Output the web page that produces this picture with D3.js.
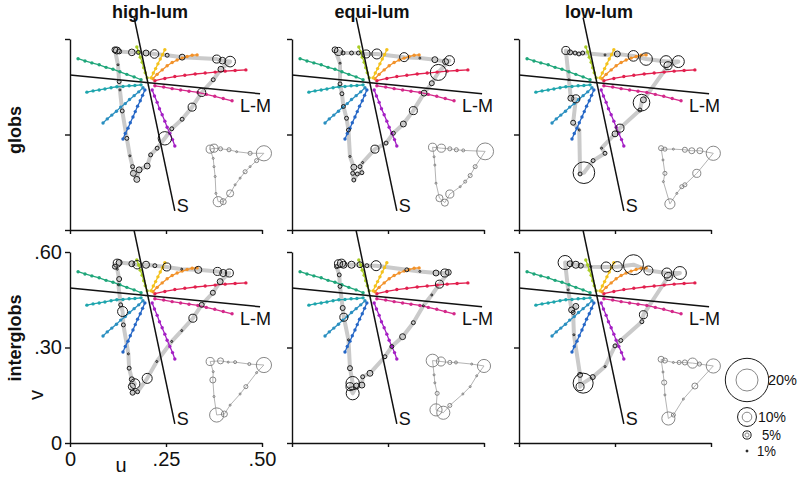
<!DOCTYPE html>
<html>
<head>
<meta charset="utf-8">
<script src="https://cdn.jsdelivr.net/npm/d3@7"></script>
<style>
  body { margin: 0; background: #fff; }
  text { font-family: "Liberation Sans", Arial, sans-serif; fill: #111; }
</style>
</head>
<body>
<script>
// panel names
const columns = ["high-lum", "equi-lum", "low-lum"];
const rows = ["globs", "interglobs"];

// axes ticks (u, v chromaticity)
const uTicks = [0, 0.25, 0.5];
const uTickLabels = ["0", ".25", ".50"];
const vTicks = [0, 0.3, 0.6];
const vTickLabels = ["0", ".30", ".60"];

// cone-opponent axes, white point
const whitePoint = [0.203, 0.460];
const lmAxis = [[0, 0.487], [0.495, 0.428]];
const sAxis = [[0.167, 0.667], [0.273, 0.06]];

// stimulus hue rays (u, v)
const rayColors = ["#1fa67a", "#1ea5ad", "#2a8fc0", "#2466c6", "#a41fc4",
                   "#d4288a", "#e21f4e", "#f2922a", "#f4c21c", "#a9cc24"];
const rays = [
  [[0.185,0.472],[0.167,0.481],[0.148,0.489],[0.130,0.497],[0.112,0.505],[0.094,0.511],[0.076,0.519],[0.057,0.525],[0.039,0.531],[0.021,0.538]],
  [[0.185,0.456],[0.169,0.454],[0.154,0.453],[0.138,0.451],[0.122,0.450],[0.107,0.447],[0.091,0.443],[0.076,0.440],[0.060,0.437],[0.044,0.433]],
  [[0.190,0.447],[0.179,0.434],[0.167,0.422],[0.155,0.410],[0.144,0.397],[0.132,0.386],[0.121,0.373],[0.109,0.361],[0.097,0.349],[0.086,0.336]],
  [[0.195,0.440],[0.189,0.423],[0.183,0.406],[0.176,0.389],[0.170,0.372],[0.164,0.355],[0.157,0.337],[0.151,0.320],[0.144,0.303],[0.138,0.286]],
  [[0.214,0.440],[0.220,0.421],[0.227,0.401],[0.233,0.381],[0.240,0.362],[0.247,0.342],[0.253,0.323],[0.260,0.303],[0.267,0.284],[0.273,0.264]],
  [[0.221,0.453],[0.244,0.449],[0.266,0.444],[0.288,0.440],[0.310,0.436],[0.333,0.432],[0.355,0.426],[0.377,0.420],[0.399,0.413],[0.422,0.406]],
  [[0.221,0.469],[0.247,0.476],[0.273,0.482],[0.299,0.486],[0.326,0.490],[0.352,0.493],[0.378,0.496],[0.404,0.499],[0.430,0.501],[0.458,0.503]],
  [[0.216,0.475],[0.227,0.489],[0.240,0.503],[0.253,0.516],[0.266,0.526],[0.279,0.534],[0.292,0.540],[0.305,0.545],[0.318,0.549],[0.331,0.550]],
  [[0.211,0.478],[0.217,0.493],[0.223,0.507],[0.229,0.522],[0.235,0.537],[0.241,0.551],[0.247,0.566]],
  [[0.201,0.478],[0.196,0.494],[0.192,0.510],[0.188,0.527],[0.183,0.543],[0.179,0.559],[0.174,0.575]]
];

// naming trajectories: [u, v, percent]
const globsHigh = [[0.117,0.566,3.8],[0.122,0.564,4.4],[0.128,0.561,3.3],[0.161,0.558,4.2],[0.178,0.558,2.7],[0.198,0.556,3.8],[0.220,0.553,5.2],[0.253,0.549,2.7],[0.292,0.543,3.8],[0.382,0.537,4.9],[0.397,0.532,4.2],[0.417,0.529,6.2],[0.393,0.505,3.8],[0.373,0.472,2.7],[0.343,0.432,4.9],[0.318,0.386,4.9],[0.292,0.348,2.7],[0.265,0.318,2.7],[0.247,0.288,7.5],[0.227,0.257,2.7],[0.210,0.236,2.7],[0.201,0.201,3.8],[0.180,0.189,3.8],[0.174,0.159,3.8],[0.165,0.178,3.8],[0.163,0.199,2.7],[0.156,0.233,1.5],[0.148,0.288,2.7],[0.136,0.374,2.7],[0.130,0.440,1.5],[0.128,0.466,2.7],[0.125,0.519,1.5]];
const globsEqui = [[0.112,0.566,3.8],[0.121,0.561,4.9],[0.133,0.556,2.7],[0.155,0.556,2.7],[0.173,0.556,2.7],[0.193,0.553,4.9],[0.221,0.553,5.9],[0.292,0.543,5.4],[0.333,0.540,1.5],[0.372,0.535,3.8],[0.400,0.529,3.8],[0.410,0.532,5.9],[0.381,0.495,8.7],[0.364,0.461,3.3],[0.344,0.430,3.8],[0.316,0.375,4.9],[0.290,0.333,3.8],[0.264,0.304,2.7],[0.245,0.273,2.7],[0.216,0.254,4.9],[0.184,0.212,1.5],[0.177,0.199,2.7],[0.182,0.180,2.7],[0.170,0.176,2.7],[0.161,0.157,2.7],[0.158,0.178,2.7],[0.161,0.197,3.8],[0.151,0.231,1.5],[0.147,0.314,2.7],[0.142,0.351,2.7],[0.134,0.388,2.7],[0.130,0.428,2.7],[0.125,0.459,2.7],[0.125,0.524,1.5]];
const globsLow = [[0.122,0.564,4.9],[0.133,0.558,3.3],[0.146,0.556,2.7],[0.156,0.553,2.7],[0.166,0.556,2.7],[0.224,0.550,1.5],[0.256,0.553,3.8],[0.298,0.547,6.2],[0.331,0.537,7.1],[0.383,0.529,6.8],[0.415,0.529,6.8],[0.388,0.516,4.9],[0.324,0.409,3.8],[0.319,0.400,9],[0.315,0.377,2.7],[0.263,0.320,4.9],[0.250,0.302,3.8],[0.215,0.257,1.5],[0.224,0.241,2.7],[0.193,0.218,2.7],[0.169,0.180,11.2],[0.159,0.176,2.7],[0.157,0.314,1.5],[0.141,0.337,3.3],[0.148,0.412,4.9],[0.135,0.414,3.8],[0.130,0.472,1.5]];
const interHigh = [[0.123,0.565,4.9],[0.128,0.567,3.8],[0.161,0.563,3.8],[0.175,0.560,5.1],[0.198,0.560,4.4],[0.221,0.557,2.7],[0.252,0.553,4.9],[0.291,0.546,1.5],[0.334,0.544,4.4],[0.384,0.539,4.9],[0.399,0.534,4.4],[0.415,0.534,4.9],[0.391,0.507,3.8],[0.372,0.472,3.3],[0.343,0.434,3.3],[0.320,0.392,4.9],[0.291,0.353,1.5],[0.265,0.319,1.5],[0.226,0.256,1.5],[0.201,0.203,5.9],[0.176,0.161,2.7],[0.163,0.158,3.3],[0.161,0.177,4.4],[0.169,0.186,5.9],[0.161,0.200,3.3],[0.154,0.235,2.7],[0.152,0.280,1.5],[0.139,0.371,2.7],[0.137,0.413,5.9],[0.132,0.434,2.7],[0.126,0.497,1.5],[0.128,0.515,3.3],[0.123,0.546,1.5],[0.117,0.554,3.3]];
const interEqui = [[0.121,0.563,4.9],[0.129,0.565,4.9],[0.134,0.560,4.4],[0.155,0.560,4.4],[0.177,0.560,3.8],[0.195,0.557,2.7],[0.219,0.557,5.9],[0.299,0.544,2.7],[0.333,0.539,1.5],[0.375,0.534,3.8],[0.398,0.534,4.9],[0.407,0.536,3.8],[0.384,0.499,4.9],[0.364,0.465,1.5],[0.342,0.431,1.5],[0.316,0.378,2.7],[0.288,0.334,3.8],[0.260,0.303,2.7],[0.242,0.271,2.7],[0.203,0.219,3.8],[0.184,0.208,2.7],[0.182,0.182,3.8],[0.168,0.179,3.8],[0.158,0.156,7.3],[0.151,0.177,4.9],[0.158,0.188,7.5],[0.151,0.235,3.3],[0.147,0.324,1.5],[0.135,0.395,4.9],[0.132,0.424,3.3],[0.125,0.492,2.7],[0.123,0.528,2.7],[0.116,0.554,2.7]];
const interLow = [[0.120,0.567,7.8],[0.133,0.563,3.8],[0.148,0.560,4.4],[0.161,0.557,3.3],[0.187,0.554,1.5],[0.227,0.553,5.9],[0.256,0.554,5.9],[0.298,0.560,10.5],[0.337,0.542,5.4],[0.385,0.534,5.9],[0.419,0.534,7.3],[0.389,0.523,4.9],[0.324,0.403,4.9],[0.320,0.381,2.7],[0.265,0.322,2.7],[0.250,0.305,2.7],[0.224,0.240,1.5],[0.192,0.207,3.3],[0.167,0.188,10.5],[0.159,0.177,4.9],[0.159,0.214,3.3],[0.143,0.340,1.5],[0.141,0.410,2.7],[0.148,0.429,3.8],[0.137,0.418,3.8],[0.128,0.481,1.5]];

// inset trajectories: [u, v, percent]
const insetGlobsHigh = [[0.365,0.254,8.7],[0.375,0.257,8.7],[0.392,0.255,4.9],[0.414,0.252,4.9],[0.434,0.246,2.7],[0.469,0.241,4.9],[0.505,0.241,14.7],[0.486,0.218,4.9],[0.469,0.199,2.7],[0.456,0.183,4.9],[0.443,0.163,2.7],[0.430,0.142,2.7],[0.417,0.115,7.8],[0.399,0.089,6.8],[0.386,0.089,10.5],[0.380,0.115,2.7],[0.378,0.168,2.7],[0.375,0.199,2.7],[0.373,0.225,2.7]];
const insetGlobsEqui = [[0.366,0.260,8.7],[0.389,0.257,8.7],[0.411,0.255,4.9],[0.428,0.252,4.9],[0.446,0.250,3.8],[0.503,0.247,16],[0.477,0.199,4.9],[0.464,0.171,4.9],[0.451,0.152,3.8],[0.438,0.136,2.7],[0.411,0.113,8.7],[0.398,0.086,7.8],[0.384,0.100,7.8],[0.375,0.147,2.7],[0.372,0.204,2.7],[0.370,0.230,2.7]];
const insetGlobsLow = [[0.370,0.257,5.9],[0.380,0.254,4.9],[0.402,0.254,2.7],[0.432,0.252,5.9],[0.450,0.249,6.8],[0.471,0.249,6.8],[0.506,0.241,13.9],[0.463,0.178,8.7],[0.432,0.142,4.9],[0.424,0.136,4.9],[0.411,0.115,2.7],[0.393,0.082,10.5],[0.376,0.152,2.7],[0.380,0.178,4.9],[0.375,0.220,2.7]];
const insetInterHigh = [[0.365,0.256,8.7],[0.392,0.258,6.8],[0.412,0.254,2.7],[0.430,0.254,3.8],[0.467,0.248,3.8],[0.505,0.245,14.7],[0.486,0.221,2.7],[0.458,0.177,4.9],[0.443,0.154,2.7],[0.417,0.119,2.7],[0.402,0.091,6.8],[0.382,0.088,13.9],[0.375,0.146,2.7],[0.372,0.198,6.8],[0.373,0.224,2.7]];
const insetInterEqui = [[0.366,0.259,12.7],[0.388,0.256,9.6],[0.411,0.253,4.9],[0.427,0.253,3.8],[0.468,0.248,2.7],[0.500,0.242,13],[0.481,0.211,2.7],[0.464,0.177,2.7],[0.445,0.154,2.7],[0.411,0.118,4.9],[0.394,0.095,13],[0.375,0.104,12.2],[0.378,0.156,4.9],[0.372,0.189,2.7],[0.370,0.214,2.7]];
const insetInterLow = [[0.370,0.263,6.8],[0.380,0.259,5.9],[0.402,0.253,2.7],[0.417,0.253,4.9],[0.432,0.253,5.9],[0.452,0.251,10.5],[0.470,0.248,4.9],[0.506,0.242,13.9],[0.458,0.179,6.8],[0.428,0.138,2.7],[0.402,0.088,4.9],[0.389,0.077,13],[0.380,0.151,2.7],[0.378,0.190,5.9],[0.375,0.223,2.7]];

// size legend
const legendPcts = [20, 10, 5, 1];
const legendLabels = ["20%", "10%", "5%", "1%"];

const mainLoops = [[globsHigh, globsEqui, globsLow], [interHigh, interEqui, interLow]];
const insetLoops = [[insetGlobsHigh, insetGlobsEqui, insetGlobsLow], [insetInterHigh, insetInterEqui, insetInterLow]];

// --- drawing ---
var width = 800, height = 478;
var colX = [70, 292, 519];   // u = 0 for each column
var rowY = [230, 443];       // v = 0 for each row
var panelW = 192, panelH = 191;

var svg = d3.select("body").append("svg").attr("width", width).attr("height", height);

var rMain = d3.scalePow().exponent(1.2).domain([0, 20]).range([0, 21.7]);
var rInset = d3.scalePow().exponent(1.2).domain([0, 20]).range([0, 11]);

function styleAxis(g) {
    g.attr("font-family", null).attr("font-size", null);
    g.selectAll("path, line").attr("stroke", "#111").attr("stroke-width", 1.4);
    g.selectAll("text").attr("font-size", 20).attr("fill", "#111");
}

rows.forEach(function(rowName, ri) {
    columns.forEach(function(colName, ci) {
        var x = d3.scaleLinear().domain([0, 0.5]).range([colX[ci], colX[ci] + panelW]);
        var y = d3.scaleLinear().domain([0, 0.6]).range([rowY[ri], rowY[ri] - panelH]);
        var line = d3.line().x(d => x(d[0])).y(d => y(d[1]));
        var loop = d3.line().x(d => x(d[0])).y(d => y(d[1])).curve(d3.curveLinearClosed);
        var labelled = (ri == 1 && ci == 0);
        var g = svg.append("g");

        // axes
        g.append("g").attr("transform", "translate(0," + rowY[ri] + ")")
            .call(d3.axisBottom(x).tickValues(uTicks).tickSize(4).tickSizeOuter(0).tickPadding(5)
                .tickFormat((d, i) => labelled ? uTickLabels[i] : ""))
            .call(styleAxis);
        g.append("g").attr("transform", "translate(" + colX[ci] + ",0)")
            .call(d3.axisLeft(y).tickValues(vTicks).tickSize(5).tickSizeOuter(0).tickPadding(3)
                .tickFormat((d, i) => labelled ? vTickLabels[i] : ""))
            .call(styleAxis);

        // thick grey trajectory
        var pts = mainLoops[ri][ci];
        g.append("path").attr("d", loop(pts)).attr("fill", "none")
            .attr("stroke", "#cacaca").attr("stroke-width", 4).attr("stroke-linejoin", "round");

        // hue rays
        rays.forEach(function(ray, k) {
            g.append("path").attr("d", line(ray)).attr("fill", "none")
                .attr("stroke", rayColors[k]).attr("stroke-width", 1.3);
            g.selectAll(null).data(ray).enter().append("circle")
                .attr("cx", d => x(d[0])).attr("cy", d => y(d[1])).attr("r", 1.7)
                .attr("fill", rayColors[k]);
        });

        // white point marker
        var wx = x(whitePoint[0]), wy = y(whitePoint[1]);
        g.append("path").attr("d", "M" + (wx - 3) + "," + wy + "h6M" + wx + "," + (wy - 3) + "v6")
            .attr("stroke", "#ddd").attr("stroke-width", 1);

        // L-M and S axes
        g.append("path").attr("d", line(lmAxis)).attr("stroke", "#111").attr("stroke-width", 1.5);
        g.append("path").attr("d", line(sAxis)).attr("stroke", "#111").attr("stroke-width", 1.5);
        g.append("text").attr("x", x(lmAxis[1][0]) - 20).attr("y", y(lmAxis[1][1]) + 18)
            .attr("font-size", 18).text("L-M");
        g.append("text").attr("x", x(sAxis[1][0]) + 2).attr("y", y(sAxis[1][1]) + 1)
            .attr("font-size", 18).text("S");

        // circles on trajectory
        g.selectAll(null).data(pts).enter().append("circle")
            .attr("cx", d => x(d[0])).attr("cy", d => y(d[1])).attr("r", d => rMain(d[2]))
            .attr("fill", "none").attr("stroke", "#1a1a1a").attr("stroke-width", 1);

        // inset trajectory
        var ins = insetLoops[ri][ci];
        g.append("path").attr("d", loop(ins)).attr("fill", "none")
            .attr("stroke", "#b4b4b4").attr("stroke-width", 1);
        g.selectAll(null).data(ins).enter().append("circle")
            .attr("cx", d => x(d[0])).attr("cy", d => y(d[1])).attr("r", d => rInset(d[2]))
            .attr("fill", "none").attr("stroke", "#7a7a7a").attr("stroke-width", 0.9);

        // column titles
        if (ri == 0) {
            svg.append("text").attr("x", colX[ci] + 80).attr("y", 18)
                .attr("text-anchor", "middle").attr("font-size", 18).attr("font-weight", "bold")
                .text(colName);
        }
    });

    // row titles
    var cy = ri == 0 ? 130 : 338;
    svg.append("text").attr("transform", "translate(21," + cy + ") rotate(-90)")
        .attr("text-anchor", "middle").attr("font-size", 18).attr("font-weight", "bold")
        .text(rowName);
});

// axis names
svg.append("text").attr("transform", "translate(43,395) rotate(-90)")
    .attr("text-anchor", "middle").attr("font-size", 20).text("v");
svg.append("text").attr("x", 121).attr("y", 472)
    .attr("text-anchor", "middle").attr("font-size", 20).text("u");

// legend
var legY = [380, 417, 435, 451];
var legX = [768, 758, 762, 757];
var legLen = [29, 28, 19, 19];
var leg = svg.append("g");
legendPcts.forEach(function(p, i) {
    leg.append("circle").attr("cx", 747).attr("cy", legY[i]).attr("r", Math.max(rMain(p), 1))
        .attr("fill", i == 3 ? "#333" : "none").attr("stroke", "#1a1a1a").attr("stroke-width", 1);
    if (i < 3) {
        leg.append("circle").attr("cx", 747).attr("cy", legY[i]).attr("r", rInset(p))
            .attr("fill", "none").attr("stroke", "#8a8a8a").attr("stroke-width", 1);
    }
    leg.append("text").attr("x", legX[i]).attr("y", legY[i] + 5)
        .attr("font-size", 15).attr("textLength", legLen[i]).attr("lengthAdjust", "spacingAndGlyphs")
        .text(legendLabels[i]);
});
</script>
</body>
</html>
